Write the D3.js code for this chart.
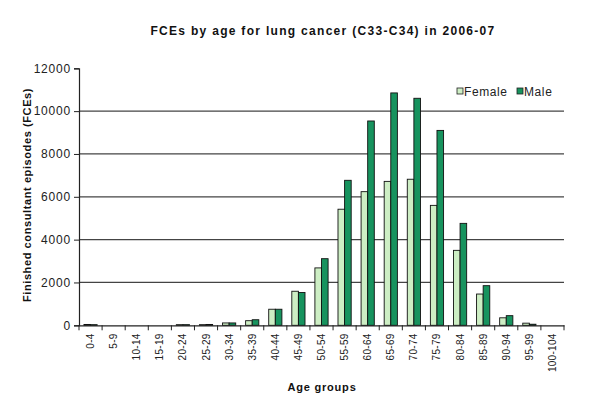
<!DOCTYPE html>
<html><head><meta charset="utf-8">
<script src="https://cdn.jsdelivr.net/npm/d3@7"></script>
<style>
body{margin:0;background:#fff;}
text{font-family:Arial,"Liberation Sans",sans-serif;}
</style></head>
<body><svg id="c" width="602" height="399"></svg>
<script>
const categories = ["0-4","5-9","10-14","15-19","20-24","25-29","30-34","35-39","40-44","45-49","50-54","55-59","60-64","65-69","70-74","75-79","80-84","85-89","90-94","95-99","100-104"];
const female = [40,0,0,0,30,30,110,215,750,1590,2680,5420,6240,6720,6820,5600,3500,1460,350,100,0];
const male   = [30,0,0,0,30,40,110,260,750,1530,3110,6770,9540,10850,10600,9100,4760,1850,450,50,0];
const yTicks = [0,2000,4000,6000,8000,10000,12000];
const seriesNames = ["Female","Male"];

const colors = {Female:"#cdeec4", Male:"#17935e"};
const svg = d3.select("#c");
const L=79, R=564, T=68.3, B=325.3;

const x = d3.scaleBand().domain(categories).range([L,R]).paddingInner(0).paddingOuter(0);
const inner = d3.scaleBand().domain(seriesNames).range([0,x.bandwidth()]).paddingInner(0).paddingOuter(0.75);
const y = d3.scaleLinear().domain([0,12000]).range([B,T]);

// gridlines
svg.append("g").selectAll("line").data(yTicks.filter(d=>d>0&&d<12000)).join("line")
  .attr("x1",L).attr("x2",R).attr("y1",d=>y(d)).attr("y2",d=>y(d))
  .attr("stroke","#444").attr("stroke-width",1.2);

// bars
const data = categories.map((c,i)=>({c, Female:female[i], Male:male[i]}));
const groups = svg.append("g").selectAll("g").data(data).join("g")
  .attr("transform",d=>`translate(${x(d.c)},0)`);
groups.selectAll("rect").data(d=>seriesNames.map(s=>({s,v:d[s]}))).join("rect")
  .attr("x",d=>inner(d.s)).attr("width",inner.bandwidth())
  .attr("y",d=>y(d.v)).attr("height",d=>B-y(d.v))
  .attr("fill",d=>colors[d.s]).attr("stroke","#111").attr("stroke-width",0.9)
  .attr("visibility",d=>d.v>0?"visible":"hidden");

// y axis
const ya = svg.append("g").attr("transform",`translate(${L},0)`)
  .call(d3.axisLeft(y).tickValues(yTicks).tickSize(5).tickPadding(3).tickFormat(d3.format("d")));
ya.select(".domain").attr("stroke","#222").attr("stroke-width",1.2);
ya.selectAll(".tick line").attr("stroke","#222");
ya.selectAll("text").attr("font-size",12).attr("fill","#222").attr("letter-spacing",0.8)
  .style("font-family","Arial,'Liberation Sans',sans-serif");

// x axis
const xa = svg.append("g").attr("transform",`translate(0,${B})`)
  .call(d3.axisBottom(x).tickSize(0).tickPadding(0));
xa.select(".domain").attr("stroke","#222").attr("stroke-width",1.2);
xa.selectAll(".tick line").remove();
xa.selectAll(".tick text").attr("font-size",10).attr("fill","#222").attr("letter-spacing",0.3)
  .attr("transform","rotate(-90)").attr("text-anchor","end")
  .attr("x",-8).attr("y",0).attr("dy","0.35em")
  .style("font-family","Arial,'Liberation Sans',sans-serif");
// boundary ticks
svg.append("g").selectAll("line").data(categories.concat(["__end"])).join("line")
  .attr("x1",(d,i)=>i<categories.length?x(d):R).attr("x2",(d,i)=>i<categories.length?x(d):R)
  .attr("y1",B).attr("y2",B+5).attr("stroke","#222");

// title
svg.append("text").attr("x",323).attr("y",35).attr("text-anchor","middle")
  .attr("font-size",12).attr("font-weight","bold").attr("fill","#111").attr("letter-spacing",1.3)
  .text("FCEs by age for lung cancer (C33-C34) in 2006-07");
svg.append("text").attr("transform","translate(31,195) rotate(-90)").attr("text-anchor","middle")
  .attr("font-size",11).attr("font-weight","bold").attr("fill","#111").attr("letter-spacing",0.6)
  .text("Finished consultant episodes (FCEs)");
svg.append("text").attr("x",322).attr("y",391).attr("text-anchor","middle")
  .attr("font-size",11).attr("font-weight","bold").attr("fill","#111").attr("letter-spacing",0.8)
  .text("Age groups");

// legend
const leg = svg.append("g");
const legX=[457,517];
seriesNames.forEach((s,i)=>{
  leg.append("rect").attr("x",legX[i]).attr("y",88).attr("width",6).attr("height",6)
    .attr("fill",colors[s]).attr("stroke","#222").attr("stroke-width",0.8);
  leg.append("text").attr("x",legX[i]+7).attr("y",96).attr("font-size",12).attr("letter-spacing",0.6)
    .attr("fill","#222").text(s);
});
</script></body></html>
